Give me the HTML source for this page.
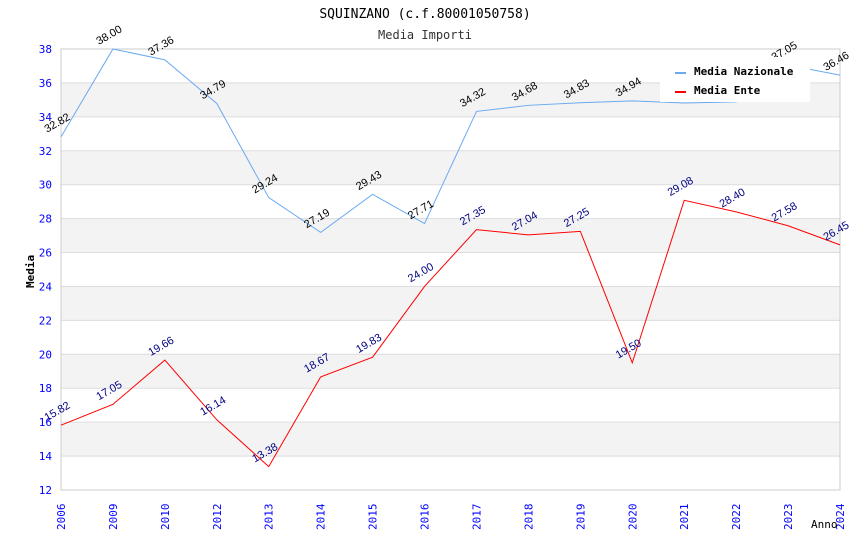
<!DOCTYPE html>
<html><head><meta charset="utf-8"><style>
body{margin:0;background:#fff}
svg text{font-family:"DejaVu Sans Mono","Liberation Mono",monospace}
</style></head><body>
<svg id="c" width="850" height="550" xmlns="http://www.w3.org/2000/svg"></svg>
<script>
const categories=["2006","2009","2010","2012","2013","2014","2015","2016","2017","2018","2019","2020","2021","2022","2023","2024"];
const nazionale=[32.82,38.00,37.36,34.79,29.24,27.19,29.43,27.71,34.32,34.68,34.83,34.94,34.82,34.88,37.05,36.46];
const ente=[15.82,17.05,19.66,16.14,13.38,18.67,19.83,24.00,27.35,27.04,27.25,19.50,29.08,28.40,27.58,26.45];
const yTicks=[12,14,16,18,20,22,24,26,28,30,32,34,36,38];
const NS="http://www.w3.org/2000/svg";
const svg=document.getElementById('c');
const L=61,R=840,T=49,B=490,yMin=12,yMax=38;
const x=i=>L+i*(R-L)/(categories.length-1);
const y=v=>B-(v-yMin)/(yMax-yMin)*(B-T);
function mk(t,a,p){const e=document.createElementNS(NS,t);for(const k in a)e.setAttribute(k,a[k]);(p||svg).appendChild(e);return e;}
for(let v=14;v<38;v+=4){const r=mk('rect',{x:L,y:y(v+2),width:R-L,height:y(v)-y(v+2),fill:'#f3f3f3'});

}
yTicks.forEach(v=>{const g=mk('line',{x1:L,x2:R,y1:y(v),y2:y(v),stroke:'#ddd','stroke-width':1});


const t=mk('text',{x:L-9,y:y(v)+4,'text-anchor':'end','font-size':11,fill:'#0000ff'});t.textContent=v;

});
mk('rect',{x:L,y:T,width:R-L,height:B-T,fill:'none',stroke:'#ccc'});
categories.forEach((c,i)=>{const t=mk('text',{transform:`translate(${x(i)+4},${B+40}) rotate(-90)`,'font-size':11,fill:'#0000ff'});t.textContent=c;

});
function series(d,col,lab,name){
 const p=mk('polyline',{points:d.map((v,i)=>x(i)+','+y(v)).join(' '),fill:'none',stroke:col,'stroke-width':1});
 
 
 d.forEach((v,i)=>{const t=mk('text',{transform:`translate(${x(i)-14},${y(v)-4}) rotate(-30)`,'font-size':11,fill:lab,style:'font-family:"Liberation Sans",sans-serif'});t.textContent=v.toFixed(2);
 
 });
}
series(nazionale,'#6aaaf0','#000','line-media-nazionale');
series(ente,'#ff0000','#000080','line-media-ente');
const lg=mk('g',{});


mk('rect',{x:660,y:57,width:150,height:45,fill:'#fff'},lg);
mk('rect',{x:675,y:72,width:11,height:2,fill:'#6aaaf0'},lg);
mk('rect',{x:675,y:91,width:11,height:2,fill:'#ff0000'},lg);
let t=mk('text',{x:694,y:75,'font-size':11,'font-weight':'bold'},lg);t.textContent='Media Nazionale';
t=mk('text',{x:694,y:94,'font-size':11,'font-weight':'bold'},lg);t.textContent='Media Ente';
t=mk('text',{x:425,y:18,'text-anchor':'middle','font-size':13});t.textContent='SQUINZANO (c.f.80001050758)';

t=mk('text',{x:425,y:39,'text-anchor':'middle','font-size':12,fill:'#333'});t.textContent='Media Importi';

t=mk('text',{transform:'translate(34,288) rotate(-90)','font-size':11,'font-weight':'bold'});t.textContent='Media';

t=mk('text',{x:811,y:528,'font-size':11});t.textContent='Anno';

</script>
</body></html>
